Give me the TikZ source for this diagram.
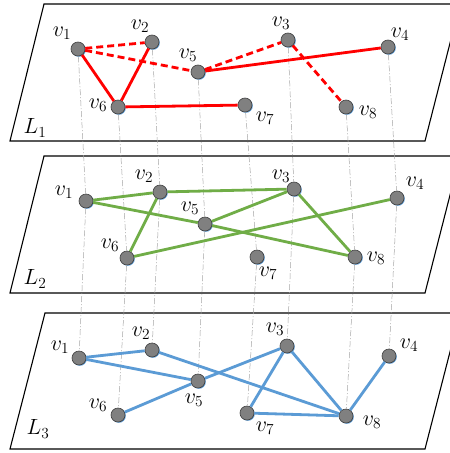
\RequirePackage{fix-cm}
\documentclass[tikz,border=0pt]{standalone}
\usetikzlibrary{shadows}
\definecolor{myred}{RGB}{255,0,0}
\definecolor{mygreen}{RGB}{112,173,71}
\definecolor{myblue}{RGB}{91,155,213}
\definecolor{nodegray}{RGB}{128,128,128}
\tikzset{
  vert/.style={circle,inner sep=0pt,minimum size=14pt,fill=nodegray,draw=black!75,line width=0.6pt,
    drop shadow={shadow xshift=0.8pt,shadow yshift=-0.8pt,fill=myblue,opacity=1}},
  lab/.style={inner sep=0pt,font=\fontsize{22}{26}\selectfont},
  plane/.style={draw=black,line width=1.1pt,fill=white},
  vline/.style={draw=gray!70,line width=0.5pt,dash pattern=on 6pt off 2pt on 1pt off 2pt},
  redsolid/.style={draw=myred,line width=2.8pt},
  reddash/.style={draw=myred,line width=2.8pt,dash pattern=on 7pt off 4pt},
  greenedge/.style={draw=mygreen,line width=2.8pt},
  blueedge/.style={draw=myblue,line width=2.8pt}
}
\begin{document}
\begin{tikzpicture}[x=1pt,y=-1pt]
\useasboundingbox (0,0) rectangle (450,453);
\clip (0,0) rectangle (450,453);
% planes
\draw[plane] (44,4) -- (460,4) -- (425,141) -- (10,141) -- cycle;
\draw[plane] (44,156) -- (460,156) -- (425,293) -- (10,293) -- cycle;
\draw[plane] (45,313) -- (460,313) -- (425,449) -- (10,449) -- cycle;
\node[lab] (L1) at (35,128) {$L_1$};
\node[lab] (L2) at (35,279) {$L_2$};
\node[lab] (L3) at (38,429) {$L_3$};
% layer 1 nodes
\node[vert] (a1) at (78,49) {};
\node[vert] (a2) at (152,42) {};
\node[vert] (a3) at (288,40) {};
\node[vert] (a4) at (388,47) {};
\node[vert] (a5) at (198,72) {};
\node[vert] (a6) at (118,107) {};
\node[vert] (a7) at (245,105) {};
\node[vert] (a8) at (346,107) {};
% layer 2 nodes
\node[vert] (b1) at (86,201) {};
\node[vert] (b2) at (160,192) {};
\node[vert] (b3) at (294,189) {};
\node[vert] (b4) at (397,198) {};
\node[vert] (b5) at (205,224) {};
\node[vert] (b6) at (127,258) {};
\node[vert] (b7) at (257,257) {};
\node[vert] (b8) at (355,257) {};
% layer 3 nodes
\node[vert] (c1) at (79,358) {};
\node[vert] (c2) at (152,350) {};
\node[vert] (c3) at (287,346) {};
\node[vert] (c4) at (389,356) {};
\node[vert] (c5) at (198,381) {};
\node[vert] (c6) at (118,415) {};
\node[vert] (c7) at (247,413) {};
\node[vert] (c8) at (346,416) {};
% vertical links
\foreach \i in {1,...,8}{
  \draw[vline] (a\i) -- (b\i);
  \draw[vline] (b\i) -- (c\i);
}
% layer 1 edges
\draw[redsolid] (a1) -- (a6);
\draw[redsolid] (a6) -- (a2);
\draw[redsolid] (a6) -- (a7);
\draw[redsolid] (a5) -- (a4);
\draw[reddash] (a1) -- (a2);
\draw[reddash] (a1) -- (a5);
\draw[reddash] (a5) -- (a3);
\draw[reddash] (a3) -- (a8);
% layer 2 edges
\draw[greenedge] (b1) -- (b2);
\draw[greenedge] (b2) -- (b3);
\draw[greenedge] (b1) -- (b5);
\draw[greenedge] (b5) -- (b8);
\draw[greenedge] (b2) -- (b6);
\draw[greenedge] (b6) -- (b4);
\draw[greenedge] (b5) -- (b3);
\draw[greenedge] (b3) -- (b8);
% layer 3 edges
\draw[blueedge] (c1) -- (c2);
\draw[blueedge] (c1) -- (c5);
\draw[blueedge] (c5) -- (c6);
\draw[blueedge] (c2) -- (c8);
\draw[blueedge] (c5) -- (c3);
\draw[blueedge] (c3) -- (c7);
\draw[blueedge] (c3) -- (c8);
\draw[blueedge] (c7) -- (c8);
\draw[blueedge] (c8) -- (c4);
% labels layer 1
\node[lab] (la1) at (62,33) {$v_1$};
\node[lab] (la2) at (140,26) {$v_2$};
\node[lab] (la3) at (281,23) {$v_3$};
\node[lab] (la4) at (400,34) {$v_4$};
\node[lab] (la5) at (188,55) {$v_5$};
\node[lab] (la6) at (98,105) {$v_6$};
\node[lab] (la7) at (265,118) {$v_7$};
\node[lab] (la8) at (368,112) {$v_8$};
% labels layer 2
\node[lab] (lb1) at (64,192) {$v_1$};
\node[lab] (lb2) at (144,176) {$v_2$};
\node[lab] (lb3) at (281,176) {$v_3$};
\node[lab] (lb4) at (415,183) {$v_4$};
\node[lab] (lb5) at (190,208) {$v_5$};
\node[lab] (lb6) at (110,245) {$v_6$};
\node[lab] (lb7) at (268,273) {$v_7$};
\node[lab] (lb8) at (376,258) {$v_8$};
% labels layer 3
\node[lab] (lc1) at (60,347) {$v_1$};
\node[lab] (lc2) at (141,333) {$v_2$};
\node[lab] (lc3) at (275,329) {$v_3$};
\node[lab] (lc4) at (409,345) {$v_4$};
\node[lab] (lc5) at (194,400) {$v_5$};
\node[lab] (lc6) at (98,405) {$v_6$};
\node[lab] (lc7) at (265,428) {$v_7$};
\node[lab] (lc8) at (372,422) {$v_8$};
\end{tikzpicture}
\end{document}
